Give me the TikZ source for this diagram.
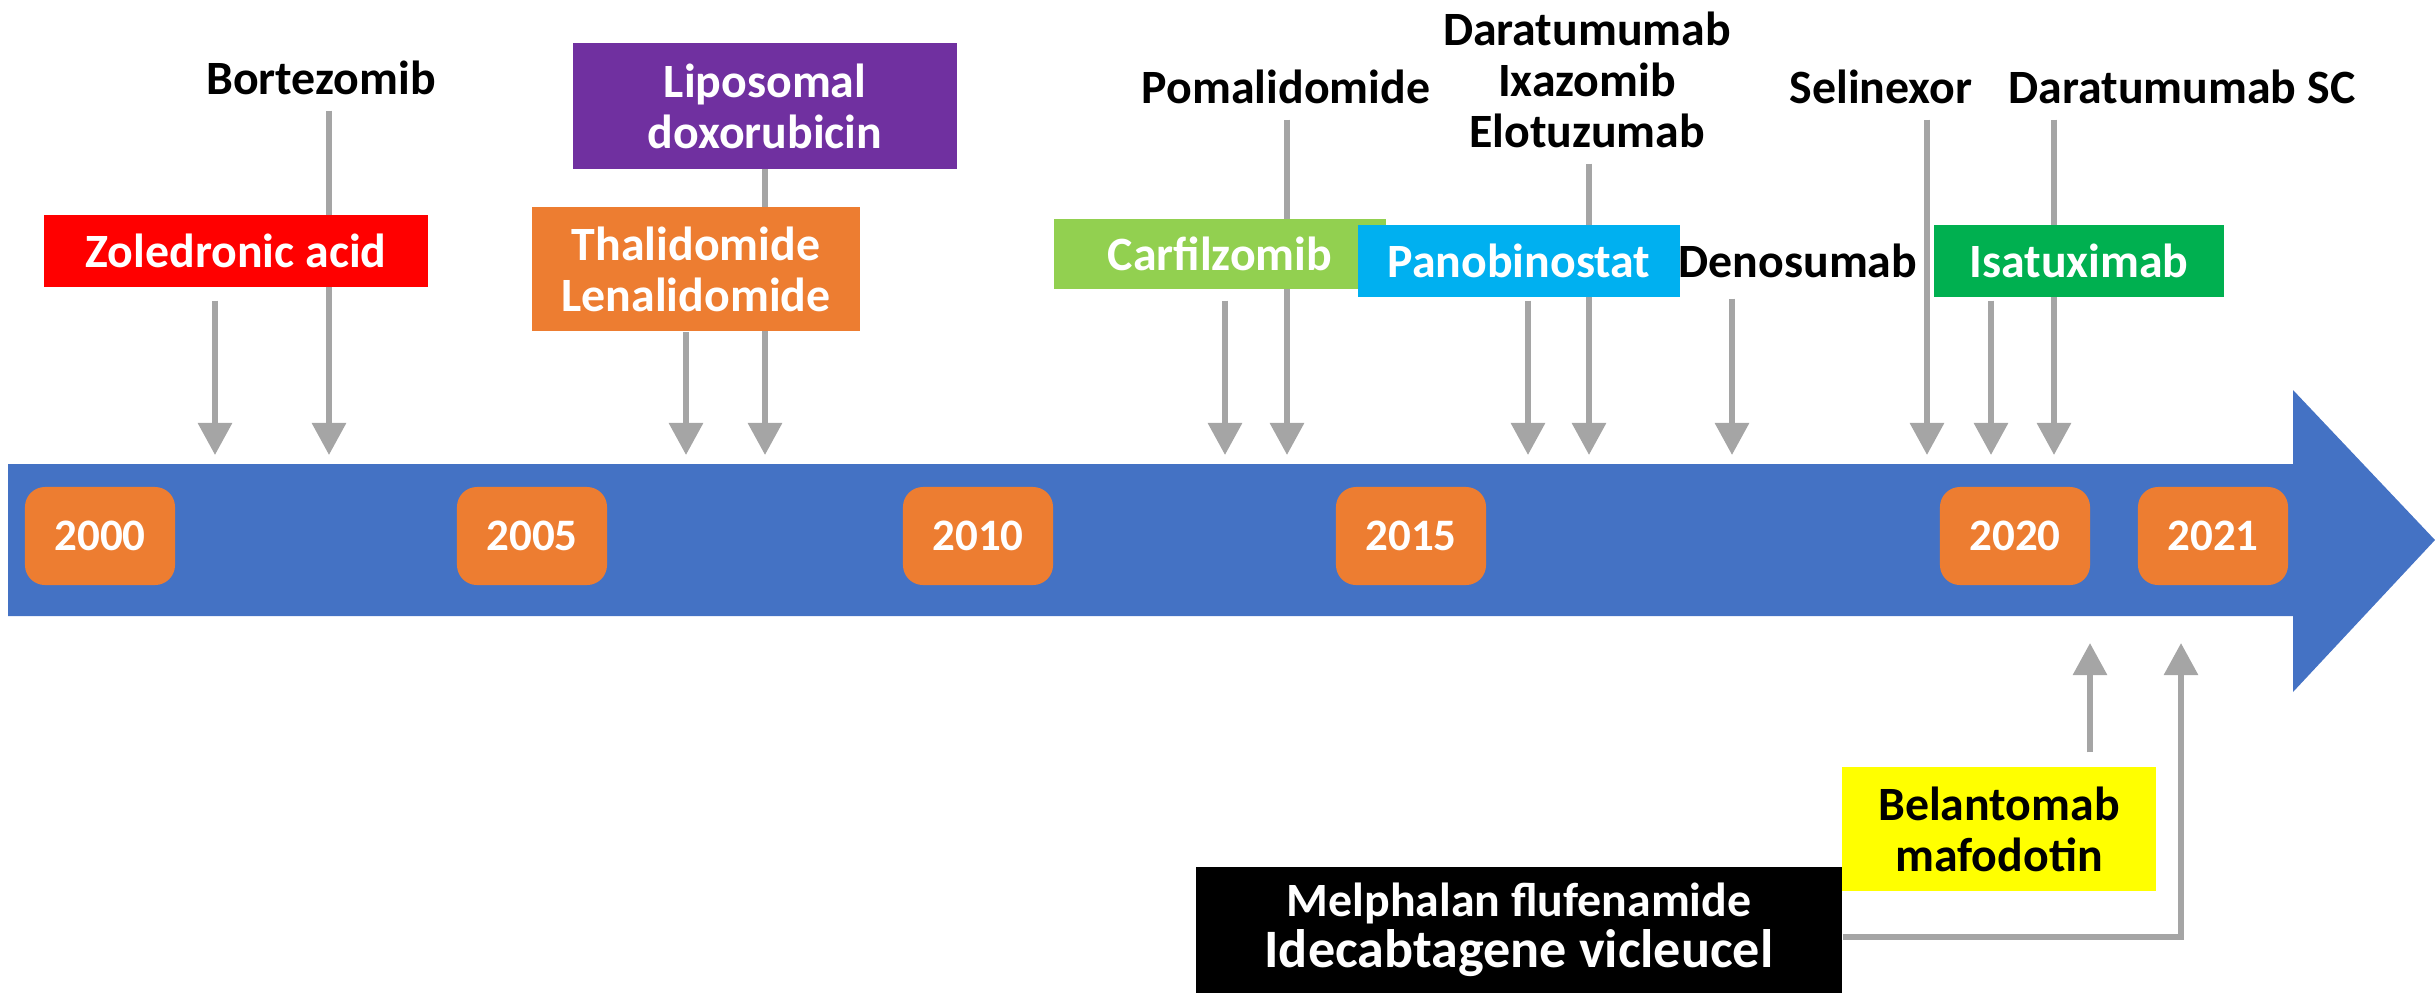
\documentclass[tikz,border=0pt]{standalone}
\usepackage{fontspec}
\setmainfont{Carlito}
\usetikzlibrary{arrows.meta,backgrounds}
\definecolor{tlblue}{HTML}{4472C4}
\definecolor{yearorange}{HTML}{ED7D31}
\definecolor{zolred}{HTML}{FF0000}
\definecolor{lipopurple}{HTML}{7030A0}
\definecolor{carfgreen}{HTML}{92D050}
\definecolor{panocyan}{HTML}{00B0F0}
\definecolor{isagreen}{HTML}{00B050}
\definecolor{belayellow}{HTML}{FFFF00}
\definecolor{arrowgray}{HTML}{A5A5A5}
\tikzset{
  year/.style={fill=yearorange, rounded corners=0.2cm, minimum width=1.5cm, minimum height=0.98cm, text=white, inner sep=0pt, font=\bfseries\fontsize{12.8}{14.3}\selectfont},
  drugname/.style={align=center, inner sep=0pt},
  drugbox/.style={text=white, align=center, inner sep=0pt},
  grayarrow/.style={draw=arrowgray, line width=0.06cm, -{Triangle[width=0.33cm,length=0.32cm]}}
}
\begin{document}
\begin{tikzpicture}[x=0.01cm, y=-0.01cm, font=\bfseries\fontsize{13.6}{14.5}\selectfont]
            \useasboundingbox (0,0) rectangle (2435,993);
            \fill[tlblue] (8,464) -- (2293,464) -- (2293,390) -- (2435,540) -- (2293,692) -- (2293,616) -- (8,616) -- cycle;

            \node (y2000) [year] at (100,536) {2000};
            \node (y2005) [year] at (532,536) {2005};
            \node (y2010) [year] at (978,536) {2010};
            \node (y2015) [year] at (1411,536) {2015};
            \node (y2020) [year] at (2015,536) {2020};
            \node (y2021) [year] at (2213,536) {2021};

            \node (bort) [drugname] at (321,78) {Bortezomib};
            \node (poma) [drugname] at (1286,87) {Pomalidomide};
            \node (dara) [drugname] at (1587,80) {Daratumumab\\Ixazomib\\Elotuzumab};
            \node (deno) [drugname] at (1798,261) {Denosumab};
            \node (seli) [drugname] at (1881,87) {Selinexor};
            \node (darasc) [drugname] at (2182,87) {Daratumumab SC};

            \node (zol) [drugbox, fill=zolred, minimum width=3.84cm, minimum height=0.72cm] at (236,251) {Zoledronic acid};
            \node (lipo) [drugbox, fill=lipopurple, minimum width=3.84cm, minimum height=1.25cm] at (765,106) {Liposomal\\doxorubicin};
            \node (thal) [drugbox, fill=yearorange, minimum width=3.27cm, minimum height=1.24cm] at (696,269) {Thalidomide\\Lenalidomide};
            \node (carf) [drugbox, fill=carfgreen, minimum width=3.32cm, minimum height=0.70cm] at (1220,254) {Carfilzomib};
            \node (pano) [drugbox, fill=panocyan, minimum width=3.22cm, minimum height=0.72cm] at (1519,261) {Panobinostat};
            \node (isa) [drugbox, fill=isagreen, minimum width=2.90cm, minimum height=0.72cm] at (2079,261) {Isatuximab};
            \node (bela) [drugbox, text=black, fill=belayellow, minimum width=3.14cm, minimum height=1.24cm] at (1999,829) {Belantomab\\mafodotin};
            \node (mel) [drugbox, fill=black, minimum width=6.46cm, minimum height=1.26cm] at (1519,930) {Melphalan flufenamide\\{\fontsize{15.4}{17}\selectfont Idecabtagene vicleucel}};

            \coordinate (zolT) at (215,455);
            \coordinate (bortT) at (329,455);
            \coordinate (thalT) at (686,455);
            \coordinate (lipoT) at (765,455);
            \coordinate (carfT) at (1225,455);
            \coordinate (pomaT) at (1287,455);
            \coordinate (panoT) at (1528,455);
            \coordinate (daraT) at (1589,455);
            \coordinate (denoT) at (1732,455);
            \coordinate (seliT) at (1927,455);
            \coordinate (isaT) at (1991,455);
            \coordinate (darascT) at (2054,455);
            \coordinate (belaT) at (2090,643);
            \coordinate (melT) at (2181,643);

            \begin{pgfonlayer}{background}
            \draw[grayarrow, shorten <=0.15cm] (bort.south -| bortT) -- (bortT);
            \draw[grayarrow, shorten <=0.15cm] (poma.south -| pomaT) -- (pomaT);
            \draw[grayarrow, shorten <=0.15cm] (dara.south -| daraT) -- (daraT);
            \draw[grayarrow, shorten <=0.2cm] (deno.south -| denoT) -- (denoT);
            \draw[grayarrow, shorten <=0.15cm] (seli.south -| seliT) -- (seliT);
            \draw[grayarrow, shorten <=0.15cm] (darasc.south -| darascT) -- (darascT);
            \draw[grayarrow, shorten <=0.13cm] (zol.south -| zolT) -- (zolT);
            \draw[grayarrow] (lipo.south -| lipoT) -- (lipoT);
            \draw[grayarrow] (thal.south -| thalT) -- (thalT);
            \draw[grayarrow, shorten <=0.11cm] (carf.south -| carfT) -- (carfT);
            \draw[grayarrow, shorten <=0.03cm] (pano.south -| panoT) -- (panoT);
            \draw[grayarrow, shorten <=0.03cm] (isa.south -| isaT) -- (isaT);
            \draw[grayarrow, shorten <=0.14cm] (bela.north -| belaT) -- (belaT);
            \draw[grayarrow] ([yshift=-0.07cm]mel.east) -| (melT);
            \end{pgfonlayer}

        \end{tikzpicture}
\end{document}
